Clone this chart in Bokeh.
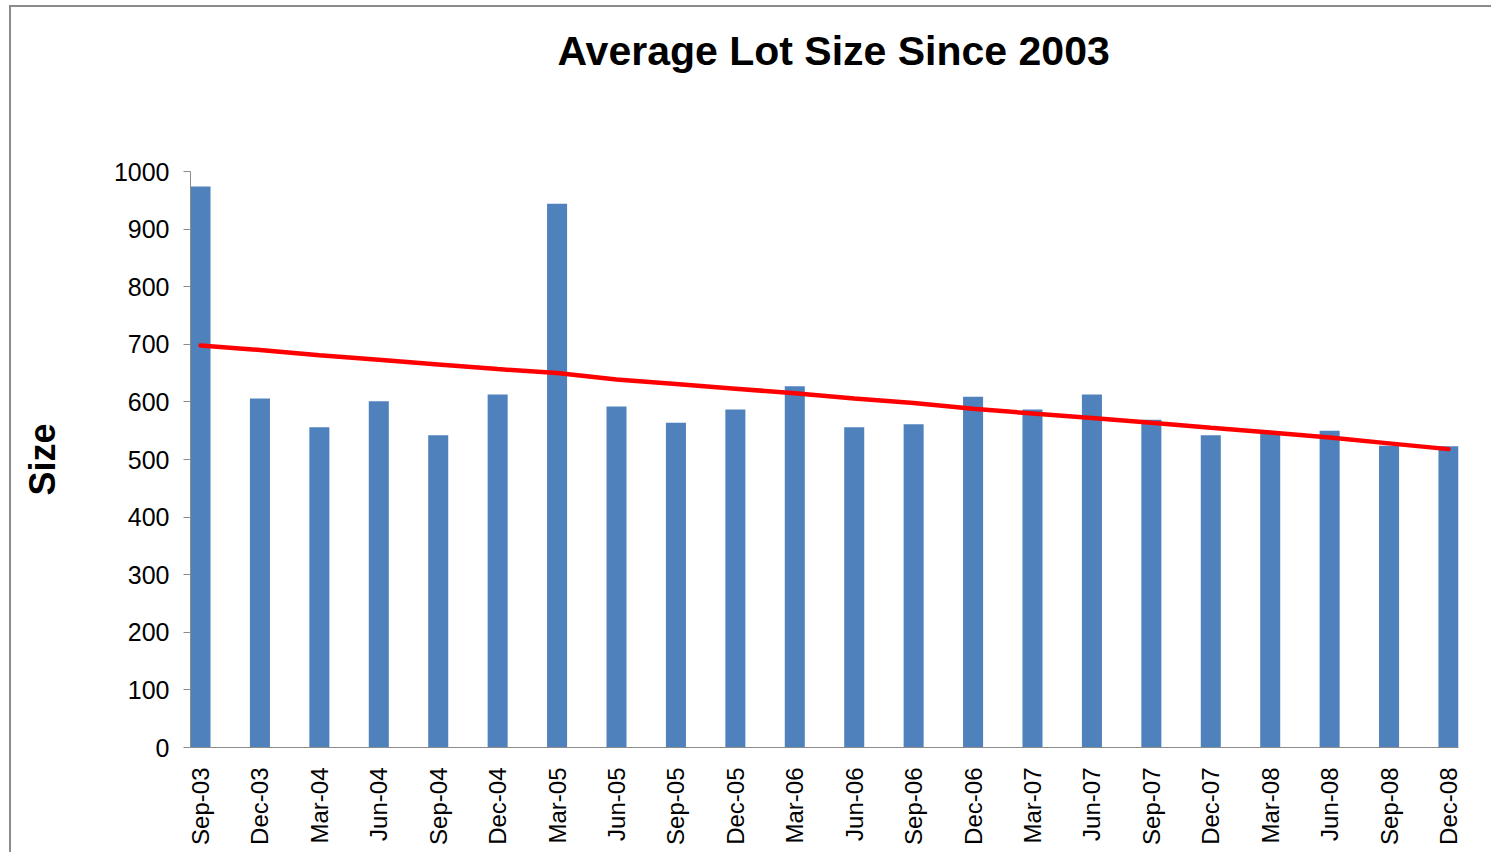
import math
from bokeh.plotting import figure
from bokeh.models import Range1d, FixedTicker, Title
from bokeh.embed import file_html
from bokeh.resources import INLINE

# ---- data ----
categories = ["Sep-03", "Dec-03", "Mar-04", "Jun-04", "Sep-04", "Dec-04",
              "Mar-05", "Jun-05", "Sep-05", "Dec-05", "Mar-06", "Jun-06",
              "Sep-06", "Dec-06", "Mar-07", "Jun-07", "Sep-07", "Dec-07",
              "Mar-08", "Jun-08", "Sep-08", "Dec-08"]
lot_size = [974, 606, 556, 601, 542, 613, 944, 592, 564, 587, 627, 556,
            561, 609, 587, 613, 569, 542, 549, 550, 524, 523]
trend = [698, 690, 681, 673, 665, 657, 650, 639, 631, 623, 615, 606,
         598, 588, 580, 572, 564, 555, 547, 538, 528, 518]
y_ticks = [0, 100, 200, 300, 400, 500, 600, 700, 800, 900, 1000]

title_text = "Average Lot Size Since 2003"
y_label = "Size"

# ---- styling / layout ----
BAR_COLOR = "#4F81BD"
TREND_COLOR = "#FF0000"
AXIS_COLOR = "#8C8C8C"
FONT = "Liberation Sans"
bar_w = 0.337

xs = list(range(len(categories)))

p = figure(width=1482, height=847, output_backend="svg", toolbar_location=None,
           x_range=Range1d(-bar_w / 2, len(categories) - 1 + bar_w / 2),
           y_range=Range1d(0, 1000),
           min_border_left=179, min_border_right=35,
           min_border_top=164, min_border_bottom=107,
           styles={"margin-left": "9px", "margin-top": "5px",
                   "border-top": "2px solid #8C8C8C",
                   "border-left": "2px solid #8C8C8C"})

p.vbar(x=xs, top=lot_size, width=bar_w, bottom=0,
       fill_color=BAR_COLOR, line_color=None)
p.line(x=xs, y=trend, line_color=TREND_COLOR, line_width=4.5, line_cap="round")

# spacer between plot frame and title, then the title itself
spacer = Title(text=" ", text_font_size="1px", standoff=90)
p.add_layout(spacer, "above")
t = Title(text=title_text, align="left", text_font=FONT, text_font_size="41px",
          text_font_style="bold", text_color="black", standoff=10, offset=367)
p.add_layout(t, "above")

p.outline_line_color = None
p.xgrid.grid_line_color = None
p.ygrid.grid_line_color = None
p.background_fill_color = "white"
p.border_fill_color = "white"

# y axis
ya = p.yaxis[0]
ya.ticker = FixedTicker(ticks=y_ticks)
ya.axis_line_color = AXIS_COLOR
ya.major_tick_line_color = AXIS_COLOR
ya.major_tick_in = 0
ya.major_tick_out = 7
ya.minor_tick_line_color = None
ya.major_label_text_font = FONT
ya.major_label_text_font_size = "25px"
ya.major_label_text_color = "black"
ya.major_label_standoff = 14
ya.axis_label = y_label
ya.axis_label_text_font = FONT
ya.axis_label_text_font_size = "36px"
ya.axis_label_text_font_style = "bold"
ya.axis_label_text_color = "black"
ya.axis_label_standoff = 48

# x axis
xa = p.xaxis[0]
xa.ticker = FixedTicker(ticks=xs)
xa.major_label_overrides = {i: c for i, c in zip(xs, categories)}
xa.major_label_orientation = math.pi / 2
xa.axis_line_color = AXIS_COLOR
xa.major_tick_line_color = None
xa.major_tick_in = 0
xa.major_tick_out = 0
xa.minor_tick_line_color = None
xa.major_label_text_font = FONT
xa.major_label_text_font_size = "24px"
xa.major_label_text_color = "black"
xa.major_label_standoff = 20

open("out.html", "w").write(file_html(p, INLINE))
